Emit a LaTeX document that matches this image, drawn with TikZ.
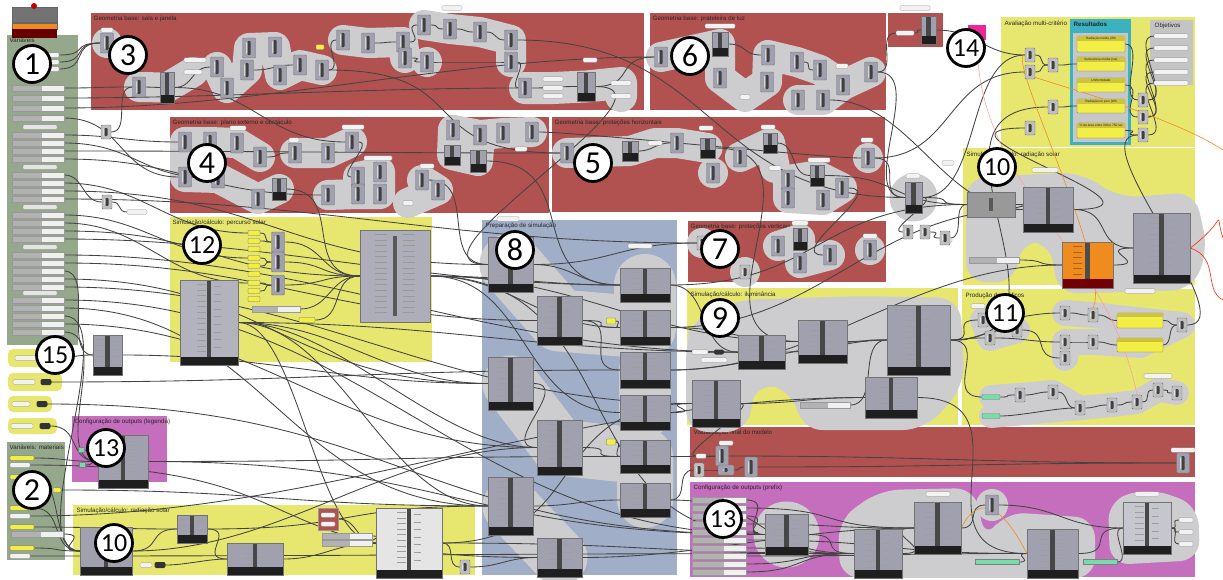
\documentclass[tikz,border=0pt]{standalone}
\usepackage{fontspec}
\setmainfont{Liberation Sans}
\newfontfamily\numfont{Carlito}
\usetikzlibrary{fit,calc}
\pgfdeclarelayer{grp}
\pgfdeclarelayer{hull}
\pgfdeclarelayer{wires}
\pgfdeclarelayer{top}
\pgfsetlayers{grp,hull,wires,main,top}
\definecolor{gred}{RGB}{178,82,80}
\definecolor{gyel}{RGB}{231,231,112}
\definecolor{ggreen}{RGB}{150,168,140}
\definecolor{gblue}{RGB}{160,174,200}
\definecolor{gmag}{RGB}{198,110,190}
\definecolor{gteal}{RGB}{58,178,192}
\definecolor{hullc}{RGB}{205,205,207}
\definecolor{cmpc}{RGB}{160,160,174}
\definecolor{wirec}{RGB}{68,68,68}
\definecolor{panc}{RGB}{242,238,70}
\definecolor{panh}{RGB}{205,195,60}
\definecolor{objc}{RGB}{196,196,196}
\definecolor{orangec}{RGB}{240,140,30}
\definecolor{greenpan}{RGB}{120,220,170}
\definecolor{pinkc}{RGB}{235,40,150}
\tikzset{
  ttl/.style={font=\fontsize{6.2}{7}\selectfont, anchor=north west, inner sep=0.5pt, text=black!85},
  tiny/.style={font=\fontsize{3.2}{3.5}\selectfont, inner sep=0pt, text=black!85},
  cmp/.style={draw=black!55, fill=cmpc, line width=0.4pt, minimum width=13pt, minimum height=20pt, inner sep=0pt, rounded corners=1pt,
    path picture={\fill[black!75] ([xshift=-1.6pt,yshift=3pt]path picture bounding box.south) rectangle ([xshift=1.6pt,yshift=-3pt]path picture bounding box.north);
      \fill[white!85!cmpc] ([xshift=-2.6pt,yshift=4pt]path picture bounding box.south) rectangle ([xshift=-1.6pt,yshift=-4pt]path picture bounding box.north);}},
  scmp/.style={cmp, minimum width=10pt, minimum height=14pt, fill=black!25},
  bigcmp/.style={draw=black!55, fill=#1, line width=0.4pt, inner sep=0pt,
    path picture={\fill[black!88] (path picture bounding box.south west) rectangle ([yshift=8pt]path picture bounding box.south east);
      \draw[black!38, line width=9pt, dash pattern=on 0.6pt off 5pt] ([xshift=-8pt,yshift=-4pt]path picture bounding box.north) -- ([xshift=-8pt,yshift=11pt]path picture bounding box.south);
      \draw[black!38, line width=7pt, dash pattern=on 0.6pt off 7pt] ([xshift=8pt,yshift=-6pt]path picture bounding box.north) -- ([xshift=8pt,yshift=11pt]path picture bounding box.south);
      \fill[black!72] ([xshift=-2.2pt,yshift=8pt]path picture bounding box.south) rectangle ([xshift=2.2pt]path picture bounding box.north);}},
  bigcmp/.default=cmpc,
  bigplain/.style={draw=black!55, fill=#1, line width=0.4pt, inner sep=0pt,
    path picture={\draw[black!40, line width=12pt, dash pattern=on 0.6pt off 5pt] ([xshift=-14pt,yshift=-4pt]path picture bounding box.north) -- ([xshift=-14pt,yshift=4pt]path picture bounding box.south);
      \draw[black!40, line width=12pt, dash pattern=on 0.6pt off 5pt] ([xshift=14pt,yshift=-4pt]path picture bounding box.north) -- ([xshift=14pt,yshift=4pt]path picture bounding box.south);
      \fill[black!65] ([xshift=-2pt,yshift=-6pt]path picture bounding box.north) rectangle ([xshift=2pt,yshift=6pt]path picture bounding box.south);}},
  bigplain/.default=cmpc!85,
  orcmp/.style={draw=black!55, fill=orangec, line width=0.4pt, inner sep=0pt,
    path picture={\fill[red!45!black] (path picture bounding box.south west) rectangle ([yshift=9pt]path picture bounding box.south east);
      \draw[orangec!70!black, line width=9pt, dash pattern=on 0.6pt off 5pt] ([xshift=-10pt,yshift=-4pt]path picture bounding box.north) -- ([xshift=-10pt,yshift=12pt]path picture bounding box.south);
      \fill[black!70] ([xshift=-2.2pt,yshift=9pt]path picture bounding box.south) rectangle ([xshift=2.2pt]path picture bounding box.north);}},
  ypan/.style={draw=black!55, fill=panc, line width=0.3pt, inner sep=0pt, rounded corners=0.8pt},
  lab/.style={draw=black!45, fill=white!90!gray, line width=0.3pt, inner sep=0pt, minimum height=4.5pt, rounded corners=1pt},
  slid/.style={draw=black!40, fill=white!88!gray, line width=0.3pt, minimum width=52pt, minimum height=5.5pt, inner sep=0pt,
    path picture={\fill[black!30] (path picture bounding box.south west) rectangle ([xshift=-22pt]path picture bounding box.north east);}},
  pill/.style={fill=black!80, rounded corners=2pt, minimum width=11pt, minimum height=6pt, inner sep=0pt},
  hullw/.style={draw=hullc, line width=#1, line cap=round, line join=round},
  wire/.style={draw=wirec, line width=0.85pt},
  num/.style={circle, draw=black, line width=2.8pt, fill=white, minimum size=37pt, inner sep=0pt, font=\numfont\fontsize{32}{32}\selectfont},
  numb/.style={num, font=\numfont\fontsize{26}{26}\selectfont},
}
\newcommand\gsc[3]{\node[cmp] (#1) at (#2,#3) {};}
\newcommand\gss[3]{\node[scmp] (#1) at (#2,#3) {};}
\newcommand\gbc[6][cmpc]{\node[bigcmp=#1, fit={(#3,#4) (#5,#6)}] (#2) {};}
\newcommand\glab[4]{\node[lab, minimum width=#4] (#1) at (#2,#3) {};}
\newcommand\gwire[3]{\draw[wire] (#1.east) .. controls +(#3,0) and +(-#3,0) .. (#2.west);}
\begin{document}
\begin{tikzpicture}[x=1pt,y=-1pt]
\useasboundingbox (0,0) rectangle (1223,579);
% ---------------- groups ----------------
\begin{pgfonlayer}{grp}
\fill[white] (0,0) rectangle (1223,579);
\fill[gred] (91,13) rectangle (644,110);   \node[ttl] (t3) at (93,15) {Geometria base: sala e janela};
\fill[gred] (650,13) rectangle (886,110);  \node[ttl] (t6) at (652,15) {Geometria base: prateleira de luz};
\fill[gred] (888,13) rectangle (943,47);
\fill[ggreen] (7,35) rectangle (78,345);   \node[ttl] (t1) at (9,37) {Variáveis};
\fill[gred] (170,117) rectangle (549,213); \node[ttl] (t4) at (172,119) {Geometria base: plano externo e obstáculo};
\fill[gred] (552,117) rectangle (885,212); \node[ttl] (t5) at (554,119) {Geometria base: proteções horizontais};
\fill[gyel] (1001,17) rectangle (1195,147); \node[ttl] (tav) at (1004,20) {Avaliação multi-critério};
\fill[gteal] (1070,19) rectangle (1131,145); \node[ttl, font=\bfseries\fontsize{6.2}{7}\selectfont] (tres) at (1073,21) {Resultados};
\fill[black!22] (1073,33) rectangle (1128,142);
\fill[objc] (1150,20) rectangle (1193,85); \node[ttl] (tobj) at (1154,22) {Objetivos};
\fill[gyel] (170,217) rectangle (432,362); \node[ttl] (t12) at (172,219) {Simulação/cálculo: percurso solar};
\fill[gblue] (482,220) rectangle (677,575); \node[ttl] (t8) at (485,222) {Preparação de simulação};
\fill[gred] (688,221) rectangle (886,282); \node[ttl] (t7) at (690,223) {Geometria base: proteções verticais};
\fill[gyel] (963,148) rectangle (1195,285); \node[ttl] (t10a) at (966,151) {Simulação/cálculo: radiação solar};
\fill[gyel] (687,288) rectangle (958,425); \node[ttl] (t9) at (690,291) {Simulação/cálculo: iluminância};
\fill[gyel] (962,289) rectangle (1195,425); \node[ttl] (t11) at (965,292) {Produção de gráficos};
\fill[gyel, rounded corners=5pt] (8,349) rectangle (70,367);
\fill[gyel, rounded corners=5pt] (8,373) rectangle (62,391);
\fill[gyel, rounded corners=5pt] (8,396) rectangle (52,412);
\fill[gyel, rounded corners=5pt] (8,418) rectangle (57,434);
\fill[ggreen] (7,442) rectangle (65,560); \node[ttl] (t2) at (9,444) {Variáveis: materiais};
\fill[gmag] (72,416) rectangle (167,482); \node[ttl] (t13a) at (74,418) {Configuração de outputs (legenda)};
\fill[gyel] (73,505) rectangle (475,575); \node[ttl] (t10b) at (76,507) {Simulação/cálculo: radiação solar};
\fill[gred] (690,427) rectangle (1195,477); \node[ttl] (tvis) at (693,429) {Visualização final do modelo};
\fill[gmag] (690,482) rectangle (1195,577); \node[ttl] (t13b) at (693,484) {Configuração de outputs (prefix)};
\end{pgfonlayer}
% ---------------- top-left ----------------
\node[draw=black!60, fill=black!55, minimum width=45pt, minimum height=15pt, inner sep=0pt] (tl1) at (34.5,14.5) {};
\node[circle, fill=red!75!black, minimum size=6pt, inner sep=0pt] (tld) at (34,6) {};
\node[draw=black!60, fill=orangec, minimum width=45pt, minimum height=6pt, inner sep=0pt] (tl2) at (34.5,26) {};
\node[fill=red!40!black, minimum width=45pt, minimum height=9pt, inner sep=0pt] (tl3) at (34.5,33.5) {};
% ---------------- Variaveis ----------------
\node[lab, minimum width=14pt] (vA) at (52,55) {};
\node[lab, minimum width=14pt] (vB) at (52,62) {};
\node[lab, minimum width=14pt] (vC) at (52,69) {};
\foreach \yy [count=\i] in {88,98,108,118,135,143,151,159,175,183,191,199,215,223,231,239,255,263,271,279,287,300,308,316,324,332}
  {\node[slid] (V\i) at (38,\yy) {};}
\foreach \yy [count=\i] in {127,167,207,247,293}
  {\node[lab, minimum width=34pt, fill=white!80!gray] (VH\i) at (40,\yy) {};}
% materials
\node[ypan, minimum width=24pt, minimum height=4.5pt] (M1) at (22,458) {};
\node[lab, minimum width=20pt] (M2) at (20,465) {};
\node[ypan, minimum width=24pt, minimum height=4.5pt] (M3) at (22,477) {};
\node[ypan, minimum width=8pt, minimum height=4.5pt] (M4) at (57,490) {};
\node[ypan, minimum width=24pt, minimum height=4.5pt] (M5) at (22,508) {};
\node[lab, minimum width=20pt] (M6) at (20,516) {};
\node[ypan, minimum width=24pt, minimum height=4.5pt] (M7) at (22,527) {};
\node[slid] (M8) at (37,534) {};
\node[ypan, minimum width=24pt, minimum height=4.5pt] (M9) at (22,548) {};
\node[lab, minimum width=20pt] (M10) at (20,556) {};
% panels 15
\node[lab, minimum width=22pt] (P1l) at (26,358) {}; \node[pill] (P1) at (50,358) {};
\node[lab, minimum width=22pt] (P2l) at (24,382) {}; \node[pill] (P2) at (46,382) {};
\node[lab, minimum width=18pt] (P3l) at (21,404) {}; \node[pill] (P3) at (42,404) {};
\node[lab, minimum width=22pt] (P4l) at (22,426) {}; \node[pill] (P4) at (45,426) {};
\gbc{o1}{93}{335}{122}{375}
% ---------------- G3 ----------------
\gsc{a1}{107}{43} \gsc{a2}{139}{87} \gbc[cmpc]{a3}{160}{72}{174}{103} \glab{a4}{193}{72}{18pt}
\gsc{a5}{217}{67} \gsc{a6}{227}{88} \gsc{a7}{247}{70} \gsc{a8}{249}{48} \gsc{a9}{275}{47}
\gsc{a10}{280}{75} \gsc{a11}{300}{65} \gsc{a12}{322}{70}
\node[ypan, minimum width=8pt, minimum height=5pt] (ya) at (320,47) {};
\gsc{a13}{343}{40} \gsc{a14}{368}{43} \gsc{a15}{403}{42} \gsc{a16}{405}{58}
\gsc{b1}{424}{25} \gsc{b2}{450}{29} \gsc{b3}{480}{32} \gsc{b4}{511}{40} \gsc{b5}{511}{62} \gsc{b6}{427}{62} \gsc{b7}{525}{88}
\gbc{b8}{577}{72}{595}{101}
\glab{lb1}{553}{79}{20pt} \glab{lb2}{553}{88}{20pt} \glab{lb3}{553}{96}{20pt}
\glab{lb4}{621}{83}{20pt} \glab{lb5}{621}{96}{20pt}
\glab{lt3a}{107}{30}{12pt} \glab{lt3b}{195}{60}{22pt} \glab{lt3c}{590}{60}{14pt} \glab{lt3d}{452}{8}{20pt}
% ---------------- G6 ----------------
\gsc{c1}{661}{57} \gbc{c2}{712}{32}{728}{56} \gsc{c3}{720}{78} \gsc{c4}{768}{55} \gsc{c5}{797}{62}
\gsc{c6}{767}{82} \gsc{c7}{820}{70} \gsc{c8}{843}{85} \gsc{c9}{871}{72} \gsc{c10}{798}{100} \gsc{c11}{823}{100}
\glab{c12}{745}{97}{10pt} \glab{lt6}{720}{26}{30pt} \glab{lc8}{842}{66}{12pt}
% ---------------- G14 ----------------
\gbc{g14c}{921}{16}{936}{44} \glab{g14l}{905}{33}{18pt} \glab{g14t}{915}{8}{30pt}
\node[fill=pinkc, minimum width=18pt, minimum height=15pt, inner sep=0pt] (pk) at (977,32) {};
% ---------------- G4 ----------------
\gsc{d1}{185}{142} \gsc{d2}{210}{142} \gsc{d3}{237}{143} \gsc{d4}{260}{157} \gsc{d5}{185}{177}
\gsc{d6}{218}{178} \gbc{d7}{272}{178}{286}{200} \gsc{d8}{258}{199} \gsc{d9}{295}{153} \gsc{d10}{328}{153}
\gsc{d11}{352}{142} \gsc{d12}{328}{195} \gsc{d13}{358}{177} \gsc{d14}{380}{172} \gsc{d15}{358}{194}
\gsc{d16}{380}{194} \gsc{d17}{422}{180} \gsc{d18}{438}{190} \glab{d19}{408}{203}{10pt}
\gsc{d20}{453}{130} \gsc{d21}{480}{135} \gsc{d22}{503}{133} \gsc{d23}{532}{132} \gbc{d24}{444}{145}{460}{165} \gbc{d25}{470}{150}{486}{172}
\glab{ld1}{238}{128}{16pt} \glab{ld2}{353}{127}{22pt} \glab{ld3}{378}{158}{28pt} \glab{ld4}{427}{166}{14pt} \glab{ld5}{521}{149}{12pt} \glab{ld6}{294}{140}{10pt}
% ---------------- G5 ----------------
\gsc{e1}{567}{153} \gbc{e2}{622}{141}{638}{161} \glab{le1}{655}{143}{14pt} \gsc{e3}{677}{143}
\gbc{e4}{700}{138}{715}{158} \gsc{e5}{713}{173} \gsc{e6}{740}{157} \gbc{e7}{763}{133}{777}{153}
\glab{le2}{775}{168}{12pt} \gsc{e8}{788}{180} \gbc{e9}{810}{165}{824}{186} \gsc{e10}{788}{198}
\gsc{e11}{823}{200} \gsc{e12}{842}{188} \gsc{e13}{868}{158}
\glab{le3}{706}{128}{14pt} \glab{le4}{768}{127}{14pt} \glab{le5}{819}{160}{22pt} \glab{le6}{867}{140}{12pt}
\gbc{f1}{905}{182}{922}{213} \glab{lf1}{913}{176}{14pt}
\gss{f2}{908}{232} \gss{f3}{925}{232} \glab{lf2}{946}{240}{12pt} \glab{lf3}{948}{163}{12pt}
\gss{x1}{106}{132} \gss{x2}{107}{202} \glab{x3}{137}{212}{20pt}
% ---------------- Avaliacao ----------------
\gss{av1}{1030}{55} \gss{av2}{1030}{72} \gss{av3}{1053}{65} \gss{av4}{1053}{107} \gss{av5}{1030}{128}
\gss{av6}{1143}{100} \gss{av7}{1143}{117} \gss{av8}{1143}{135}
\foreach \ya/\yb/\tx [count=\i] in {36/52/Radiação média (Wh/m2), 57/71/Iluminância média (lux), 78/92/Uniformidade, 99/113/Radiação no pico (Wh/m2), 123/138/\% da área entre 300 e 750 lux}
 {\node[ypan, fit={(1077,\ya) (1125,\yb)}] (RP\i) {};
  \fill[panh] (1077,\ya) rectangle (1125,\ya+5);
  \node[tiny] (RT\i) at (1101,\ya+2.6) {\tx};}
\foreach \yy [count=\i] in {36,48,60,72,83} {\glab{O\i}{1171}{\yy}{34pt}}
% ---------------- G12 ----------------
\gbc[cmpc!80]{p1}{180}{280}{238}{365}
\foreach \yy [count=\i] in {233,241,249,258,266,274,283,291,299}
  {\node[ypan, minimum width=12pt, minimum height=5pt] (q\i) at (254,\yy) {};}
\gsc{p2}{278}{242} \gsc{p3}{278}{262} \gsc{p4}{278}{285}
\node[slid, minimum width=48pt] (p6) at (276,309) {};
\node[ypan, minimum width=16pt, minimum height=5pt] (p7) at (307,320) {};
\node[bigplain, fit={(360,230) (430,322)}] (p5) {};
% ---------------- G8 ----------------
\gbc{h1}{488}{237}{533}{292} \gbc{h2}{537}{296}{582}{345} \gbc{h3}{620}{268}{670}{302}
\gbc{h4}{620}{310}{670}{345} \gbc{h5}{620}{352}{670}{388} \gbc{h6}{488}{357}{533}{410}
\gbc{h7}{620}{395}{670}{430} \gbc{h8}{537}{420}{582}{475} \gbc{h9}{620}{440}{670}{473}
\gbc{h10}{488}{477}{533}{535} \gbc{h11}{620}{483}{670}{517} \gbc{h12}{537}{538}{582}{577}
\node[ypan, minimum width=9pt, minimum height=6pt] (hy1) at (611,321) {};
\node[ypan, minimum width=9pt, minimum height=6pt] (hy2) at (611,442) {};
\glab{lh1}{640}{246}{24pt} \glab{lh2}{508}{219}{22pt}
% ---------------- G7 ----------------
\gss{k1}{702}{243} \gss{k2}{745}{272} \gsc{k3}{778}{246} \gbc{k4}{793}{228}{807}{250} \gsc{k5}{800}{263}
\gsc{k6}{830}{255} \gsc{k7}{870}{250} \glab{lk4}{800}{223}{16pt} \glab{lk7}{870}{236}{14pt}
% ---------------- G9 ----------------
\gbc{i1}{738}{335}{785}{369} \gbc{i2}{798}{320}{847}{363} \gbc{i3}{887}{305}{950}{375}
\gbc{i4}{692}{380}{740}{427} \gbc{i5}{865}{377}{917}{418}
\node[pill, minimum width=10pt, minimum height=5pt] (i6) at (719,352) {}; \glab{i7}{700}{352}{16pt} \glab{i8}{714}{360}{26pt}
\node[slid, minimum width=50pt] (i9) at (825,405) {};
% ---------------- G10 top ----------------
\node[bigplain=black!40, fit={(967,192) (1015,217)}] (r1) {};
\gbc{r2}{1023}{187}{1073}{232}
\node[orcmp, fit={(1062,242) (1113,288)}] (r3) {};
\gbc{r4}{1133}{213}{1190}{283}
\node[slid, minimum width=50pt] (r5) at (994,260) {};
\gss{r6}{945}{238} \glab{lr2}{1045}{170}{26pt} \glab{lr4}{1140}{291}{30pt}
% ---------------- G11 ----------------
\gss{s1}{983}{320} \gss{s2}{1017}{330} \gss{s3}{990}{338} \gss{s4}{1065}{313} \gss{s5}{1093}{315}
\gss{s6}{1065}{342} \gss{s7}{1093}{342} \gss{s8}{1065}{358}
\node[ypan, fit={(1117,313) (1163,328)}] (y1) {}; \fill[panh] (1117,313) rectangle (1163,317);
\node[ypan, fit={(1117,338) (1163,352)}] (y2) {}; \fill[panh] (1117,338) rectangle (1163,342);
\gss{s9}{1182}{325}
\node[draw=black!50, fill=greenpan, minimum width=18pt, minimum height=5pt, inner sep=0pt, rounded corners=1pt] (g1) at (991,397) {};
\node[draw=black!50, fill=greenpan, minimum width=18pt, minimum height=5pt, inner sep=0pt, rounded corners=1pt] (g2) at (991,416) {};
\gss{s10}{1020}{395} \gss{s11}{1053}{392} \gss{s12}{1080}{408} \gss{s13}{1112}{405} \gss{s14}{1137}{402}
\gss{s15}{1158}{390} \gss{s16}{1177}{393} \glab{ls1}{1158}{376}{28pt} \glab{ls2}{978}{306}{14pt}
% ---------------- Visualizacao ----------------
\glab{v1}{701}{456}{10pt} \gsc{v2}{722}{456} \gss{v3}{699}{470} \node[cmp, minimum width=16pt, minimum height=10pt] (v4) at (726,470) {};
\gsc{v5}{751}{467} \gsc{v6}{1183}{463} \glab{lv2}{726}{443}{14pt} \glab{lv6}{1183}{450}{24pt}
% ---------------- G13 right ----------------
\gbc{m1}{765}{514}{808}{555} \gbc{m2}{854}{529}{902}{578} \gbc{m3}{914}{502}{961}{554}
\gbc{m4}{1027}{529}{1078}{578} \gbc[cmpc!60]{m5}{1123}{502}{1171}{554} \gsc{m6}{992}{505}
\node[draw=black!50, fill=greenpan, minimum width=44pt, minimum height=5pt, inner sep=0pt] (mg1) at (997,562) {};
\node[draw=black!50, fill=greenpan, minimum width=34pt, minimum height=5pt, inner sep=0pt] (mg2) at (1100,562) {};
\foreach \yy [count=\i] in {500,508,516,524,532,540,548,556,564,572} {\node[slid, minimum width=54pt] (ml\i) at (719,\yy) {};}
\glab{mo1}{1186}{520}{14pt} \glab{mo2}{1186}{532}{14pt} \glab{mo3}{1186}{544}{14pt}
\glab{lm3}{938}{494}{24pt} \glab{lm5}{1147}{494}{24pt}
% ---------------- G13 left, G10 bottom ----------------
\gbc{n1}{98}{435}{148}{488}
\node[draw=black!50, fill=greenpan, minimum width=6pt, minimum height=5pt, inner sep=0pt] (n2) at (81,450) {};
\node[draw=black!50, fill=greenpan, minimum width=6pt, minimum height=5pt, inner sep=0pt] (n3) at (82,465) {};
\gbc{w1}{80}{527}{132}{575} \gbc{w2}{177}{515}{207}{543} \gbc{w3}{227}{543}{283}{575}
\gbc[black!10]{w4}{376}{508}{442}{578}
\node[fill=gred, draw=black!40, fit={(318,508) (338,530)}, inner sep=0pt] (rs) {};
\glab{rs1}{328}{515}{14pt} \glab{rs2}{328}{524}{14pt}
\node[slid, minimum width=50pt] (w5) at (347,536) {};
\node[slid, minimum width=50pt] (w6) at (347,543) {};
\gss{w7}{465}{567} \glab{w8l}{146}{565}{12pt} \node[pill] (w8) at (160,565) {};
% ---------------- hulls ----------------
\begin{pgfonlayer}{hull}
\foreach \n in {a1,e5,e13,k1,k2,k7,b6,o1} {\fill[hullc] (\n) circle (15pt);}
\fill[hullc] (f1) circle (24pt);
\draw[hullw=30pt] (a2.center) -- (a3.center) -- (a4.center);
\draw[hullw=30pt] (a5.center) -- (a6.center) -- (a7.center) -- (a8.center) -- (a9.center) -- (a10.center) -- (a11.center) -- (a12.center);
\draw[hullw=30pt] (a13.center) -- (a14.center) -- (a15.center) -- (a16.center);
\draw[hullw=30pt] (b1.center) -- (b2.center) -- (b3.center) -- (b4.center) -- (b5.center);
\draw[hullw=32pt] (b7.center) -- (lb2.center) -- (b8.center) -- (lb4.center) -- (lb5.center);
\draw[hullw=30pt] (c1.center) -- (c2.center) -- (c3.center) -- (c12.center) -- (c6.center) -- (c4.center) -- (c5.center) -- (c7.center) -- (c8.center) -- (c9.center);
\draw[hullw=30pt] (c10.center) -- (c11.center) -- (c8.center);
\draw[hullw=30pt] (d1.center) -- (d2.center) -- (d3.center) -- (d4.center);
\draw[hullw=30pt] (d1.center) -- (d5.center) -- (d6.center) -- (d8.center) -- (d7.center);
\draw[hullw=30pt] (d9.center) -- (d10.center) -- (d11.center);
\draw[hullw=30pt] (d12.center) -- (d15.center) -- (d13.center) -- (d14.center) -- (d16.center) -- (d15.center);
\draw[hullw=30pt] (d17.center) -- (d18.center) -- (d19.center);
\draw[hullw=30pt] (d20.center) -- (d21.center) -- (d22.center) -- (d23.center);
\draw[hullw=30pt] (d20.center) -- (d24.center) -- (d25.center) -- (d21.center);
\draw[hullw=30pt] (e1.center) -- (e2.center) -- (le1.center) -- (e3.center) -- (e4.center);
\draw[hullw=30pt] (e6.center) -- (e7.center) -- (le2.center);
\draw[hullw=30pt] (e8.center) -- (e9.center) -- (e12.center) -- (e11.center) -- (e10.center) -- (e8.center);
\draw[hullw=30pt] (k3.center) -- (k4.center) -- (k5.center) -- (k6.center);
\draw[hullw=62pt] (h1.center) -- (h2.center) -- (h4.center) -- (h3.center);
\draw[hullw=52pt] (h5.center) -- (h7.center);
\draw[hullw=56pt] (h6.center) -- (h8.center) -- (h9.center) -- (h11.center);
\draw[hullw=56pt] (h10.center) -- (h12.center);
\fill[hullc, rounded corners=22pt] (693,318) -- (735,300) -- (860,296) -- (960,298) -- (965,385) -- (925,430) -- (800,430) -- (795,392) -- (755,382) -- (748,432) -- (686,432) -- (686,340) -- cycle;
\fill[hullc, rounded corners=20pt] (966,178) -- (1080,172) -- (1120,198) -- (1195,192) -- (1208,250) -- (1192,290) -- (1120,292) -- (1058,294) -- (1050,242) -- (1020,242) -- (1016,282) -- (966,282) -- cycle;
\draw[hullw=26pt] (s1.center) -- (s3.center) -- (s2.center);
\draw[hullw=26pt] (s4.center) -- (s5.center) -- (y1.center) -- (s9.center) -- (y2.center) -- (s7.center) -- (s6.center) -- (s8.center);
\draw[hullw=24pt] (g1.center) -- (s10.center) -- (s11.center) -- (s12.center) -- (s13.center) -- (s14.center) -- (s15.center) -- (s16.center);
\draw[hullw=24pt] (g2.center) -- (s12.center);
\fill[hullc] (m1) circle (33pt);
\fill[hullc, rounded corners=20pt] (838,520) -- (880,490) -- (975,488) -- (985,540) -- (1005,512) -- (1095,518) -- (1095,578) -- (840,578) -- cycle;
\fill[hullc, rounded corners=20pt] (1108,500) -- (1150,488) -- (1198,505) -- (1200,560) -- (1110,565) -- cycle;
\fill[hullc] (m6) circle (16pt);
\end{pgfonlayer}
% ---------------- wires ----------------
\begin{pgfonlayer}{wires}
\gwire{vA}{a1}{30} \gwire{vB}{a1}{30} \gwire{vC}{a1}{30}
\gwire{V1}{a2}{40} \gwire{V2}{b7}{150} \gwire{V3}{c1}{200} \gwire{V4}{d5}{60}
\gwire{V5}{d1}{50} \gwire{V6}{d6}{70} \gwire{V7}{e1}{200} \gwire{V8}{d12}{120}
\gwire{V9}{x2}{20} \gwire{V10}{q1}{80} \gwire{V11}{h1}{200} \gwire{V12}{k1}{250}
\gwire{V13}{q4}{80} \gwire{V14}{q7}{80} \gwire{V15}{p5}{150} \gwire{V16}{h3}{200}
\gwire{V17}{i1}{250} \gwire{V18}{h2}{200} \gwire{V19}{o1}{30} \gwire{V20}{h6}{200}
\gwire{V21}{i4}{250} \gwire{V22}{m1}{300} \gwire{V23}{h10}{200} \gwire{V24}{w1}{60}
\gwire{V25}{h8}{200} \gwire{V26}{n1}{50}
\gwire{M1}{n1}{30} \gwire{M3}{w1}{30} \gwire{M5}{w1}{30} \gwire{M8}{w1}{30} \gwire{M9}{w1}{30}
\gwire{M4}{h10}{200} \gwire{M6}{i5}{300} \gwire{M7}{w2}{60} \gwire{M10}{m2}{400} \gwire{M2}{h12}{300}
\gwire{P1}{o1}{20} \gwire{P2}{h5}{250} \gwire{P3}{m1}{350} \gwire{P4}{n1}{30}
\gwire{x1}{a2}{20} \gwire{x2}{x3}{10}
\gwire{a2}{a3}{8} \gwire{a3}{a5}{20} \gwire{a7}{a11}{20} \gwire{a12}{a13}{15} \gwire{a14}{a15}{15}
\gwire{a15}{b1}{15} \gwire{b1}{b2}{10} \gwire{b2}{b3}{10} \gwire{b3}{b4}{10} \gwire{b5}{b7}{10}
\gwire{b7}{b8}{20} \gwire{b6}{b5}{30} \gwire{a16}{b6}{15}
\gwire{a3}{d11}{80} \gwire{a12}{e1}{150} \gwire{b8}{c1}{40} \gwire{b8}{h1}{100}
\gwire{b4}{f1}{200} \gwire{c9}{f1}{50} \gwire{c11}{r2}{80} \gwire{c2}{c4}{20} \gwire{c5}{c7}{10}
\gwire{d23}{e13}{40} \gwire{d25}{h3}{100} \gwire{e13}{f1}{30} \gwire{e12}{k6}{40}
\gwire{d7}{p5}{60} \gwire{d17}{h1}{50} \gwire{e9}{r1}{80} \gwire{e4}{i2}{120}
\gwire{d4}{d9}{15} \gwire{d11}{d13}{15} \gwire{e2}{e3}{15} \gwire{e7}{e9}{20}
\gwire{f1}{r1}{40} \gwire{f1}{f2}{20} \gwire{f3}{r6}{15}
\gwire{q1}{p2}{10} \gwire{q2}{p2}{10} \gwire{q4}{p3}{10} \gwire{q5}{p3}{10} \gwire{q7}{p4}{10} \gwire{q8}{p4}{10}
\gwire{p2}{p5}{40} \gwire{p3}{p5}{40} \gwire{p4}{p5}{40} \gwire{p6}{p5}{30} \gwire{p7}{p5}{30}
\gwire{p5}{h3}{80} \gwire{p5}{h4}{80} \gwire{p5}{i2}{150} \gwire{p5}{h7}{100} \gwire{p5}{m1}{200}
\gwire{p1}{h6}{100} \gwire{p1}{h8}{100} \gwire{p1}{w4}{60} \gwire{p1}{h10}{100} \gwire{p1}{i1}{200}
\gwire{h1}{h3}{40} \gwire{h2}{h4}{40} \gwire{h2}{h5}{40} \gwire{h3}{i1}{40} \gwire{h4}{i2}{60}
\gwire{h5}{i3}{80} \gwire{h6}{h8}{40} \gwire{h7}{i4}{40} \gwire{h8}{h9}{40} \gwire{h9}{v2}{40}
\gwire{h10}{h11}{40} \gwire{h11}{m2}{100} \gwire{h12}{m3}{120} \gwire{hy1}{h4}{8} \gwire{hy2}{h9}{8}
\gwire{h3}{r1}{150} \gwire{h4}{r2}{150} \gwire{h5}{r3}{150} \gwire{h1}{k1}{80}
\gwire{i1}{i3}{40} \gwire{i2}{i3}{40} \gwire{i4}{i5}{60} \gwire{i7}{i1}{20} \gwire{i9}{i3}{30}
\gwire{i3}{s1}{30} \gwire{i3}{s3}{30} \gwire{i3}{s2}{30} \gwire{i3}{g1}{40} \gwire{i5}{m4}{120}
\gwire{r1}{r2}{30} \gwire{r2}{r4}{40} \gwire{r3}{r4}{40} \gwire{r5}{r3}{30} \gwire{r6}{r1}{15}
\gwire{s1}{s4}{30} \gwire{s3}{s6}{30} \gwire{s2}{s8}{30} \gwire{s4}{s5}{10} \gwire{s5}{y1}{10}
\gwire{s6}{s7}{10} \gwire{s7}{y2}{10} \gwire{y1}{s9}{10} \gwire{y2}{s9}{10}
\gwire{g1}{s10}{15} \gwire{g2}{s12}{20} \gwire{s10}{s11}{10} \gwire{s11}{s12}{10} \gwire{s12}{s13}{10}
\gwire{s13}{s14}{10} \gwire{s14}{s15}{10} \gwire{s15}{s16}{10}
\gwire{av1}{av3}{10} \gwire{av2}{av3}{10} \gwire{av3}{RP2}{15} \gwire{av4}{RP4}{15}
\gwire{RP1}{av6}{20} \gwire{RP3}{av7}{20} \gwire{RP5}{av8}{20}
\gwire{av6}{O1}{25} \gwire{av7}{O3}{25} \gwire{av8}{O5}{25} \gwire{av6}{O2}{25} \gwire{av7}{O4}{25}
\gwire{i3}{av4}{150} \gwire{r2}{av5}{120} \gwire{f1}{av1}{60} \gwire{e13}{av2}{80} \gwire{c9}{g14l}{20}
\gwire{g14l}{g14c}{8} \gwire{g14c}{av1}{40} \gwire{s9}{av8}{60}
\gwire{w1}{w2}{30} \gwire{w2}{w3}{30} \gwire{w3}{w4}{40} \gwire{w5}{w4}{15} \gwire{w6}{w4}{15}
\gwire{rs}{w4}{20} \gwire{w4}{w7}{15} \gwire{w8}{w3}{20}
\gwire{w1}{h8}{150} \gwire{w2}{h10}{150} \gwire{w4}{i4}{150} \gwire{w4}{m2}{200} \gwire{w7}{h12}{30}
\gwire{n1}{m1}{300} \gwire{n1}{h9}{250} \gwire{n2}{n1}{10} \gwire{n3}{n1}{10} \gwire{o1}{h6}{150}
\gwire{m1}{m2}{40} \gwire{m2}{m3}{40} \gwire{m3}{m6}{20} \gwire{m6}{m5}{60} \gwire{m4}{m5}{40}
\gwire{mg1}{m4}{15} \gwire{mg2}{m5}{15} \gwire{m5}{mo1}{10} \gwire{m5}{mo2}{10} \gwire{m5}{mo3}{10}
\gwire{ml1}{m1}{30} \gwire{ml3}{m1}{30} \gwire{ml5}{m1}{30} \gwire{ml7}{m2}{60} \gwire{ml9}{m2}{60}
\gwire{ml2}{m3}{100} \gwire{ml4}{m3}{100} \gwire{ml6}{m4}{150} \gwire{ml8}{m4}{150} \gwire{ml10}{m2}{60}
\gwire{v2}{v6}{200} \gwire{v5}{v6}{200} \gwire{v1}{v2}{5} \gwire{v3}{v4}{5} \gwire{v4}{v5}{8}
\gwire{i4}{v1}{20} \gwire{h11}{v3}{20}
\coordinate (eR1) at (1223,238);
\coordinate (eR2) at (1223,300);
\coordinate (eR3) at (1223,150);
\draw[wire, draw=red!70!orange, line width=0.6pt] (r4.east) .. controls +(40,-30) and +(-10,-30) .. (eR1);
\draw[wire, draw=red!70!orange, line width=0.6pt] (r4.east) .. controls +(30,10) and +(-20,-10) .. (eR2);
\draw[wire, draw=orangec, line width=0.6pt] (av2.west) .. controls +(-20,0) and +(-60,-40) .. (eR3);
\draw[wire, draw=orangec, line width=0.6pt] (av1.west) .. controls +(-20,0) and +(20,-40) .. (s5.north);
\draw[wire, draw=red!40, line width=0.5pt] (pk.south) .. controls +(0,150) and +(-30,-150) .. (s14.north);
\draw[wire, draw=orangec, line width=0.6pt] (m3.east) .. controls +(20,-40) and +(-20,-40) .. (m4.west);
\end{pgfonlayer}
% ---------------- numbers ----------------
\begin{pgfonlayer}{top}
\node[num] (num1) at (32,64) {1};
\node[num] (num3) at (128,55) {3};
\node[num] (num6) at (690,56) {6};
\node[numb] (num14) at (966,48) {14};
\node[num] (num4) at (207,163) {4};
\node[num] (num5) at (593,163) {5};
\node[numb] (num10a) at (997,167) {10};
\node[numb] (num12) at (202,245) {12};
\node[num] (num8) at (515,250) {8};
\node[num] (num7) at (720,249) {7};
\node[num] (num9) at (720,318) {9};
\node[numb] (num11) at (1005,313) {11};
\node[numb] (num15) at (55,355) {15};
\node[numb] (num13a) at (106,448) {13};
\node[num] (num2) at (32,490) {2};
\node[numb] (num10b) at (114,543) {10};
\node[numb] (num13b) at (723,519) {13};
\end{pgfonlayer}
\end{tikzpicture}
\end{document}
